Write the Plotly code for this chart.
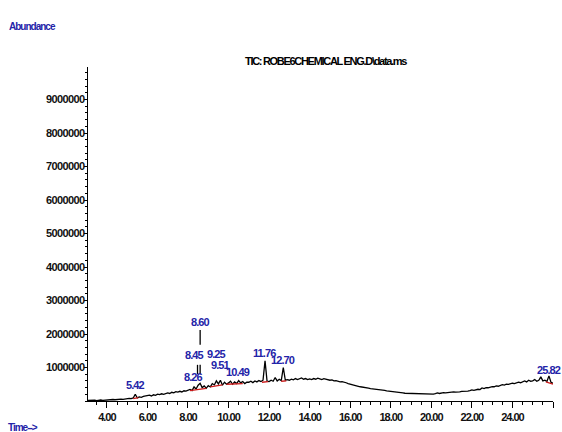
import plotly.graph_objects as go

# ---------------- data ----------------
rt_min = [
    3.0, 3.1, 3.2, 3.3, 3.4, 3.5, 3.6, 3.7, 3.8, 3.9,
    4.0, 4.1, 4.2, 4.3, 4.4, 4.5, 4.6, 4.7, 4.8, 4.9,
    5.0, 5.1, 5.2, 5.3, 5.4, 5.5, 5.6, 5.7, 5.8, 5.9,
    6.0, 6.1, 6.2, 6.3, 6.4, 6.5, 6.6, 6.7, 6.8, 6.9,
    7.0, 7.1, 7.2, 7.3, 7.4, 7.5, 7.6, 7.7, 7.8, 7.9,
    8.0, 8.1, 8.2, 8.3, 8.4, 8.5, 8.6, 8.7, 8.8, 8.9,
    9.0, 9.1, 9.2, 9.3, 9.4, 9.5, 9.6, 9.7, 9.8, 9.9,
    10.0, 10.1, 10.2, 10.3, 10.4, 10.5, 10.6, 10.7, 10.8, 10.9,
    11.0, 11.1, 11.2, 11.3, 11.4, 11.5, 11.6, 11.7, 11.8, 11.9,
    12.0, 12.1, 12.2, 12.3, 12.4, 12.5, 12.6, 12.7, 12.8, 12.9,
    13.0, 13.1, 13.2, 13.3, 13.4, 13.5, 13.6, 13.7, 13.8, 13.9,
    14.0, 14.1, 14.2, 14.3, 14.4, 14.5, 14.6, 14.7, 14.8, 14.9,
    15.0, 15.1, 15.2, 15.3, 15.4, 15.5, 15.6, 15.7, 15.8, 15.9,
    16.0, 16.1, 16.2, 16.3, 16.4, 16.5, 16.6, 16.7, 16.8, 16.9,
    17.0, 17.1, 17.2, 17.3, 17.4, 17.5, 17.6, 17.7, 17.8, 17.9,
    18.0, 18.1, 18.2, 18.3, 18.4, 18.5, 18.6, 18.7, 18.8, 18.9,
    19.0, 19.1, 19.2, 19.3, 19.4, 19.5, 19.6, 19.7, 19.8, 19.9,
    20.0, 20.1, 20.2, 20.3, 20.4, 20.5, 20.6, 20.7, 20.8, 20.9,
    21.0, 21.1, 21.2, 21.3, 21.4, 21.5, 21.6, 21.7, 21.8, 21.9,
    22.0, 22.1, 22.2, 22.3, 22.4, 22.5, 22.6, 22.7, 22.8, 22.9,
    23.0, 23.1, 23.2, 23.3, 23.4, 23.5, 23.6, 23.7, 23.8, 23.9,
    24.0, 24.1, 24.2, 24.3, 24.4, 24.5, 24.6, 24.7, 24.8, 24.9,
    25.0, 25.1, 25.2, 25.3, 25.4, 25.5, 25.6, 25.7, 25.8, 25.9,
    26.0, 26.1, 26.2, 26.3,
]
abundance_k = [
    15, 22, 12, 20, 26, 14, 24, 30, 18, 26,
    32, 40, 28, 45, 38, 50, 42, 55, 48, 60,
    65, 78, 70, 90, 200, 95, 120, 110, 135, 150,
    160, 175, 150, 185, 170, 205, 190, 215, 200, 230,
    240, 225, 260, 245, 280, 265, 290, 270, 305, 295,
    320, 345, 310, 420, 360, 470, 530, 400, 450, 380,
    460, 420, 520, 480, 600, 510, 620, 470, 560, 500,
    540, 590, 500, 570, 520, 610, 540, 580, 520, 560,
    560, 590, 550, 600, 570, 610, 580, 620, 1200, 590,
    580, 620, 590, 700, 600, 650, 610, 1000, 620, 640,
    620, 650, 630, 670, 640, 660, 690, 650, 670, 640,
    660, 640, 670, 650, 680, 660, 640, 665, 650, 640,
    620, 630, 600, 610, 580, 570, 580, 550, 545, 520,
    500, 490, 470, 460, 440, 425, 420, 410, 395, 385,
    370, 365, 355, 350, 340, 330, 325, 315, 305, 295,
    280, 275, 265, 260, 250, 240, 240, 232, 230, 225,
    220, 218, 212, 215, 205, 200, 198, 205, 195, 200,
    210, 205, 220, 240, 225, 240, 250, 245, 255, 250,
    260, 270, 262, 280, 275, 290, 285, 300, 295, 310,
    330, 320, 345, 350, 340, 390, 370, 400, 395, 420,
    430, 425, 450, 440, 470, 490, 475, 500, 495, 520,
    530, 520, 550, 560, 545, 580, 600, 570, 620, 590,
    600, 640, 590, 620, 720, 600, 620, 580, 750, 560,
    520, 480, 450, 430,
]

# integration baselines (red)
base_t0 = [5.30, 8.10, 9.10, 9.90, 11.65, 12.60, 25.65]
base_v0 = [70, 310, 420, 500, 560, 590, 570]
base_t1 = [5.55, 8.90, 9.70, 10.70, 11.95, 12.85, 26.00]
base_v1 = [100, 380, 480, 520, 580, 600, 500]

# peak labels
peak_rt = [5.42, 8.26, 8.45, 8.60, 9.25, 9.51, 10.49, 11.76, 12.70, 25.82]
peak_text = ["5.42", "8.26", "8.45", "8.60", "9.25", "9.51", "10.49", "11.76", "12.70", "25.82"]
label_rt = [5.42, 8.26, 8.30, 8.60, 9.40, 9.60, 10.49, 11.76, 12.70, 25.82]
label_level_m = [0.48, 0.72, 1.37, 2.36, 1.40, 1.08, 0.88, 1.43, 1.22, 0.93]

# leader lines for displaced labels
leader_rt = [8.60, 8.47, 8.60]
leader_lo_m = [1.68, 0.80, 0.80]
leader_hi_m = [2.12, 1.08, 1.08]

x_tick_vals = [4, 6, 8, 10, 12, 14, 16, 18, 20, 22, 24, 26]
x_tick_text = ["4.00", "6.00", "8.00", "10.00", "12.00", "14.00", "16.00",
               "18.00", "20.00", "22.00", "24.00", ""]
y_tick_vals = [1000000, 2000000, 3000000, 4000000, 5000000,
               6000000, 7000000, 8000000, 9000000]
y_tick_text = ["1000000", "2000000", "3000000", "4000000", "5000000",
               "6000000", "7000000", "8000000", "9000000"]

title_text = "TIC: ROBE6CHEMICAL ENG.D\\data.ms"

# ---------------- figure ----------------
FONT = "Liberation Sans Narrow, Liberation Sans, Arial, sans-serif"
BLUE = "#2323a8"


def squeeze(s, sp=-0.8):
    if s == "":
        return s
    return "<span style='letter-spacing:%spx'>%s</span>" % (sp, s)


fig = go.Figure()

fig.add_trace(go.Scatter(
    x=rt_min, y=[v * 1000 for v in abundance_k], mode="lines",
    line=dict(color="black", width=1.3), hoverinfo="skip", showlegend=False))

bx, by = [], []
for a, b, c, d in zip(base_t0, base_v0, base_t1, base_v1):
    bx += [a, c, None]
    by += [b * 1000, d * 1000, None]
fig.add_trace(go.Scatter(x=bx, y=by, mode="lines",
                         line=dict(color="#cc1a1a", width=1.3),
                         hoverinfo="skip", showlegend=False))

lx, ly = [], []
for r, lo, hi in zip(leader_rt, leader_lo_m, leader_hi_m):
    lx += [r, r, None]
    ly += [lo * 1e6, hi * 1e6, None]
fig.add_trace(go.Scatter(x=lx, y=ly, mode="lines",
                         line=dict(color="black", width=1.3),
                         hoverinfo="skip", showlegend=False))

annotations = []
for r, t, lv in zip(label_rt, peak_text, label_level_m):
    annotations.append(dict(
        x=r, y=lv * 1e6, xref="x", yref="y", text=squeeze(t, -0.9),
        showarrow=False, xanchor="center", yanchor="middle",
        font=dict(family=FONT, size=11, color=BLUE, weight="bold")))

W, H = 562, 432
ML, MR, MT, MB = 88, 9, 67, 31
pw, ph = W - ML - MR, H - MT - MB


def px(x, y):
    return (x - ML) / pw, (H - y - MB) / ph


ax, ay = px(7, 27)
annotations.append(dict(
    x=ax, y=ay, xref="paper", yref="paper", text=squeeze("Abundance", -1.0),
    showarrow=False, xanchor="left", yanchor="middle",
    font=dict(family=FONT, size=10, color=BLUE, weight="bold")))
ax, ay = px(6, 427)
annotations.append(dict(
    x=ax, y=ay, xref="paper", yref="paper", text=squeeze("Time-->", -1.0),
    showarrow=False, xanchor="left", yanchor="middle",
    font=dict(family=FONT, size=10, color=BLUE, weight="bold")))
ax, ay = px(326, 61)
annotations.append(dict(
    x=ax, y=ay, xref="paper", yref="paper", text=squeeze(title_text, -1.3),
    showarrow=False, xanchor="center", yanchor="middle",
    font=dict(family=FONT, size=11, color="black", weight="bold")))

fig.update_layout(
    width=W, height=H,
    margin=dict(l=ML, r=MR, t=MT, b=MB, pad=0),
    paper_bgcolor="white", plot_bgcolor="white",
    showlegend=False,
    annotations=annotations,
    xaxis=dict(
        range=[3.07, 26.0], showgrid=False, zeroline=False,
        showline=True, linecolor="black", linewidth=1.3,
        ticks="outside", ticklen=6, tickwidth=1.2, tickcolor="black",
        tickvals=x_tick_vals, ticktext=[squeeze(t, -1.0) for t in x_tick_text],
        tickfont=dict(family=FONT, size=11, color="#111", weight="bold"),
        minor=dict(ticks="outside", ticklen=3, dtick=0.5, tick0=0,
                   tickcolor="black", showgrid=False),
    ),
    yaxis=dict(
        range=[0, 9.97e6], showgrid=False, zeroline=False,
        showline=True, linecolor="black", linewidth=1.3,
        ticks="outside", ticklen=3, tickwidth=1.2, tickcolor="black",
        tickvals=y_tick_vals, ticktext=[squeeze(t, -0.6) for t in y_tick_text],
        tickfont=dict(family=FONT, size=11, color="#111", weight="bold"),
        ticklabelstandoff=-3,
        minor=dict(ticks="outside", ticklen=2, dtick=200000, tick0=0,
                   tickcolor="black", showgrid=False),
    ),
)

fig.write_html("out.html")
